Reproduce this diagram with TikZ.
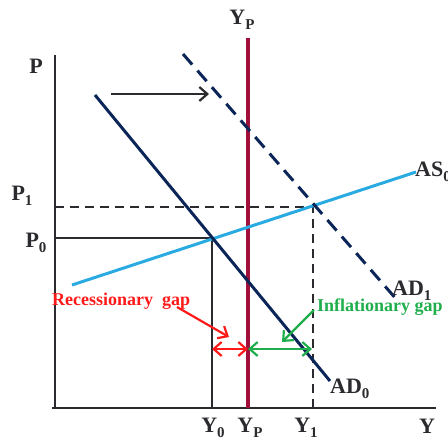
\documentclass[tikz,border=0pt]{standalone}
\usepackage{fontspec}
\setmainfont{Liberation Serif}
\usetikzlibrary{arrows.meta}
\definecolor{navy}{HTML}{0B2558}
\definecolor{maroon}{HTML}{A0103A}
\definecolor{skyb}{HTML}{29ABE2}
\definecolor{gapred}{HTML}{FF1A1A}
\definecolor{gapgreen}{HTML}{1FAE4B}
\definecolor{axisgray}{HTML}{2B2B2F}
\newcommand\lsub[1]{\raisebox{-0.45ex}{\fontsize{15}{15}\selectfont #1}}
\tikzset{
  lbl/.style={font=\fontsize{22}{22}\selectfont\bfseries, text=axisgray, inner sep=0pt},
  gaplbl/.style={font=\fontsize{18}{18}\selectfont\bfseries, inner sep=0pt},
  axisline/.style={axisgray, line width=2pt},
  guide/.style={axisgray, line width=1.6pt},
  adline/.style={navy, line width=3pt},
  barb/.tip={Straight Barb[length=8pt,width=14pt,line width=2.2pt]},
  openarrow/.style={-{barb}},
  dblarrow/.style={{barb}-{barb}},
}
\begin{document}
\begin{tikzpicture}[x=1pt,y=-1pt]
\useasboundingbox (0,0) rectangle (448,440);
% coordinates
\coordinate (O) at (55,408);
\coordinate (Ytop) at (55,55);
\coordinate (Xend) at (436,408);
\coordinate (E0) at (212,238);
\coordinate (E1) at (313,207);
\coordinate (P0a) at (55,238);
\coordinate (P1a) at (55,207);
\coordinate (Y0a) at (212,408);
\coordinate (Y1a) at (313,408);
\coordinate (YPt) at (248,38);
\coordinate (YPb) at (248,408);
\coordinate (AD0s) at (95,95);
\coordinate (AD0e) at (330,381);
\coordinate (AD1s) at (183,54);
\coordinate (AD1e) at (397,300);
\coordinate (ASs) at (72,285);
\coordinate (ASe) at (416,172);
\coordinate (Sh1) at (111,94);
\coordinate (Sh2) at (209,94);
\coordinate (Ra1) at (177,307);
\coordinate (Ra2) at (229,337);
\coordinate (Ia1) at (314,310);
\coordinate (Ia2) at (282,342);
\coordinate (G0) at (212,349);
\coordinate (GP) at (248,349);
\coordinate (G1) at (312,349);
% axes
\draw[axisline] (Ytop) -- (O);
\draw[axisline] (52,408) -- (Xend);
% guides
\draw[guide] (P0a) -- (E0) -- (Y0a);
\draw[guide, dash pattern=on 9pt off 6pt] (P1a) -- (E1) -- (Y1a);
% potential output
\draw[maroon, line width=3.5pt] (YPt) -- (YPb);
% curves
\draw[skyb, line width=3pt] (ASs) -- (ASe);
\draw[adline] (AD0s) -- (AD0e);
\draw[adline, dash pattern=on 14pt off 8pt] (AD1s) -- (AD1e);
% shift arrow
\draw[axisgray, line width=2.2pt, openarrow] (Sh1) -- (Sh2);
% gap arrows
\draw[gapred, line width=2.2pt, openarrow] (Ra1) -- (Ra2);
\draw[gapred, line width=2.8pt, dblarrow] (G0) -- (GP);
\draw[gapgreen, line width=2.8pt, dblarrow] (GP) -- (G1);
\draw[gapgreen, line width=2.2pt, openarrow] (Ia1) -- (Ia2);
% labels
\node[lbl] (lP) at (36,66) {P};
\node[lbl] (lYPtop) at (242,20) {Y\lsub{P}};
\node[lbl] (lP1) at (22,196) {P\lsub{1}};
\node[lbl] (lP0) at (36,243) {P\lsub{0}};
\node[lbl, anchor=west] (lAS) at (415,172) {AS\lsub{0}};
\node[lbl, anchor=west] (lAD1) at (392,291) {AD\lsub{1}};
\node[lbl, anchor=west] (lAD0) at (330,389) {AD\lsub{0}};
\node[lbl] (lY0) at (213,428) {Y\lsub{0}};
\node[lbl] (lYP) at (250,428) {Y\lsub{P}};
\node[lbl] (lY1) at (306,428) {Y\lsub{1}};
\node[lbl] (lY) at (427,426) {Y};
\node[gaplbl, text=gapred, anchor=west] (lR) at (52,301) {Recessionary\ \ gap};
\node[gaplbl, text=gapgreen, anchor=west] (lI) at (317,307) {Inflationary gap};
\end{tikzpicture}
\end{document}
